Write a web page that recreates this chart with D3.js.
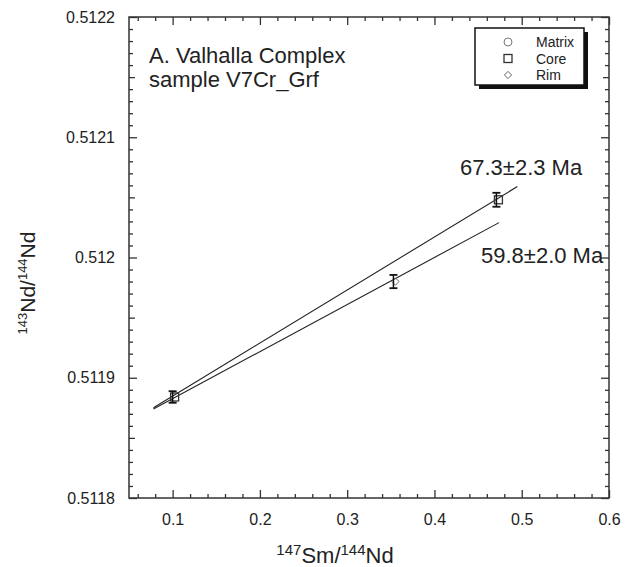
<!DOCTYPE html>
<html>
<head>
<meta charset="utf-8">
<script src="https://cdn.jsdelivr.net/npm/d3@7"></script>
<style>
  html, body { margin: 0; padding: 0; background: #fff; }
  svg { display: block; font-family: "Liberation Sans", Arial, Helvetica, sans-serif; }
</style>
</head>
<body>
<svg id="chart" width="634" height="567"></svg>
<script>
// ---- data ----
const sampleTitle = ["A. Valhalla Complex", "sample V7Cr_Grf"];
const pointType = ["Core", "Rim", "Core"];
const smNd = [0.1, 0.353, 0.471];
const ndNd = [0.511884, 0.511980, 0.512048];
const ndErr = [0.0000048, 0.0000055, 0.0000058];
const isoNames = ["67.3±2.3 Ma", "59.8±2.0 Ma"];
const isoX = [[0.078, 0.495], [0.078, 0.474]];
const isoY = [[0.511875, 0.512059], [0.511874, 0.512029]];
const xTickValues = [0.1, 0.2, 0.3, 0.4, 0.5, 0.6];
const xTickLabels = ["0.1", "0.2", "0.3", "0.4", "0.5", "0.6"];
const yTickValues = [0.5118, 0.5119, 0.512, 0.5121, 0.5122];
const yTickLabels = ["0.5118", "0.5119", "0.512", "0.5121", "0.5122"];
const legendNames = ["Matrix", "Core", "Rim"];

// ---- layout ----
const L = 129, R = 609, T = 17, B = 498;
const svg = d3.select("#chart");
const x = d3.scaleLinear().domain([0.05, 0.6]).range([L, R]);
const y = d3.scaleLinear().domain([0.5118, 0.5122]).range([B, T]);
const ink = "#333";

// minor tick sets
const xMinor = d3.range(0, 28).map(i => +(0.06 + i * 0.02).toFixed(3)).filter(v => v <= 0.6 && Math.abs(v * 10 - Math.round(v * 10)) > 1e-6);
const yAll = d3.range(0, 41).map(i => +(0.5118 + i * 0.00001).toFixed(6));
const yMinor = yAll.filter(v => Math.abs(v * 20000 - Math.round(v * 20000)) > 1e-4);
const yMid = yAll.filter(v => Math.abs(v * 20000 - Math.round(v * 20000)) <= 1e-4 && Math.abs(v * 10000 - Math.round(v * 10000)) > 1e-4);

function styleAxis(g) {
  g.select(".domain").remove();
  g.selectAll(".tick line").attr("stroke", ink).attr("stroke-width", 1.3);
}

// bottom
svg.append("g").attr("transform", `translate(0,${B})`)
  .call(d3.axisBottom(x).tickValues(xMinor).tickSize(-4).tickFormat(""))
  .call(styleAxis);
svg.append("g").attr("transform", `translate(0,${B})`)
  .call(d3.axisBottom(x).tickValues(xTickValues).tickSize(-8).tickPadding(16)
    .tickFormat((d, i) => xTickLabels[i]))
  .call(styleAxis)
  .call(g => g.selectAll("text").attr("font-size", 16).attr("fill", "#222")
    .attr("font-family", "Liberation Sans, Arial, sans-serif"));
// top
svg.append("g").attr("transform", `translate(0,${T})`)
  .call(d3.axisTop(x).tickValues(xMinor).tickSize(-4).tickFormat(""))
  .call(styleAxis);
svg.append("g").attr("transform", `translate(0,${T})`)
  .call(d3.axisTop(x).tickValues(xTickValues).tickSize(-8).tickFormat(""))
  .call(styleAxis);
// left
svg.append("g").attr("transform", `translate(${L},0)`)
  .call(d3.axisLeft(y).tickValues(yMinor).tickSize(-4).tickFormat(""))
  .call(styleAxis);
svg.append("g").attr("transform", `translate(${L},0)`)
  .call(d3.axisLeft(y).tickValues(yMid).tickSize(-6).tickFormat(""))
  .call(styleAxis);
svg.append("g").attr("transform", `translate(${L},0)`)
  .call(d3.axisLeft(y).tickValues(yTickValues).tickSize(-8).tickPadding(14)
    .tickFormat((d, i) => yTickLabels[i]))
  .call(styleAxis)
  .call(g => g.selectAll("text").attr("font-size", 16).attr("fill", "#222")
    .attr("font-family", "Liberation Sans, Arial, sans-serif"));
// right
svg.append("g").attr("transform", `translate(${R},0)`)
  .call(d3.axisRight(y).tickValues(yMinor).tickSize(-4).tickFormat(""))
  .call(styleAxis);
svg.append("g").attr("transform", `translate(${R},0)`)
  .call(d3.axisRight(y).tickValues(yMid).tickSize(-6).tickFormat(""))
  .call(styleAxis);
svg.append("g").attr("transform", `translate(${R},0)`)
  .call(d3.axisRight(y).tickValues(yTickValues).tickSize(-8).tickFormat(""))
  .call(styleAxis);

// frame
svg.append("rect").attr("x", L).attr("y", T).attr("width", R - L).attr("height", B - T)
  .attr("fill", "none").attr("stroke", ink).attr("stroke-width", 1.5);

// isochron lines
const line = d3.line().x(d => x(d[0])).y(d => y(d[1]));
isoX.forEach((xs, k) => {
  svg.append("path")
    .datum(xs.map((xv, j) => [xv, isoY[k][j]]))
    .attr("d", line).attr("fill", "none").attr("stroke", "#222").attr("stroke-width", 1.1);
});

// isochron labels
svg.append("text").attr("x", 460).attr("y", 175).attr("font-size", 22).attr("fill", "#222").text(isoNames[0]);
svg.append("text").attr("x", 481).attr("y", 263).attr("font-size", 22).attr("fill", "#222").text(isoNames[1]);

// symbols
function drawSymbol(g, type, cx, cy, s) {
  if (type === "Matrix") {
    g.append("circle").attr("cx", cx).attr("cy", cy).attr("r", s * 0.5)
      .attr("fill", "none").attr("stroke", "#777").attr("stroke-width", 1);
  } else if (type === "Core") {
    g.append("rect").attr("x", cx - s / 2).attr("y", cy - s / 2).attr("width", s).attr("height", s)
      .attr("fill", "none").attr("stroke", "#333").attr("stroke-width", 1.3);
  } else {
    const h = s * 0.45;
    g.append("path").attr("d", `M${cx},${cy - h}L${cx + h},${cy}L${cx},${cy + h}L${cx - h},${cy}Z`)
      .attr("fill", "none").attr("stroke", "#666").attr("stroke-width", 1);
  }
}

// data points with error bars
const pts = svg.append("g");
smNd.forEach((sv, i) => {
  const cx = x(sv), cy = y(ndNd[i]);
  drawSymbol(pts, pointType[i], cx + 2, cy, 8);
  const y0 = y(ndNd[i] - ndErr[i]), y1 = y(ndNd[i] + ndErr[i]);
  pts.append("line").attr("x1", cx).attr("x2", cx).attr("y1", y0).attr("y2", y1)
    .attr("stroke", "#111").attr("stroke-width", 1.5);
  [y0, y1].forEach(yy => pts.append("line").attr("x1", cx - 4).attr("x2", cx + 4)
    .attr("y1", yy).attr("y2", yy).attr("stroke", "#111").attr("stroke-width", 1.8));
});

// title
sampleTitle.forEach((t, i) => {
  svg.append("text").attr("x", 149).attr("y", 63 + i * 24).attr("font-size", 22)
    .attr("fill", "#222").text(t);
});

// legend
const lg = svg.append("g");
lg.append("rect").attr("x", 479).attr("y", 32).attr("width", 109).attr("height", 57).attr("fill", "#111");
lg.append("rect").attr("x", 475).attr("y", 28).attr("width", 109).attr("height", 57)
  .attr("fill", "#fff").attr("stroke", "#111").attr("stroke-width", 1.5);
legendNames.forEach((n, i) => {
  const cy = 42 + i * 16.5;
  drawSymbol(lg, n, 508, cy, 8);
  lg.append("text").attr("x", 536).attr("y", cy + 5).attr("font-size", 14).attr("fill", "#222").text(n);
});

// axis titles
const xt = svg.append("text").attr("x", 335).attr("y", 563).attr("text-anchor", "middle")
  .attr("font-size", 22).attr("fill", "#222");
xt.append("tspan").attr("font-size", 15).attr("dy", -8).text("147");
xt.append("tspan").attr("dy", 8).text("Sm/");
xt.append("tspan").attr("font-size", 15).attr("dy", -8).text("144");
xt.append("tspan").attr("dy", 8).text("Nd");

const yt = svg.append("text").attr("transform", "translate(35,283) rotate(-90)").attr("text-anchor", "middle")
  .attr("font-size", 21).attr("fill", "#222");
yt.append("tspan").attr("font-size", 13).attr("dy", -8).text("143");
yt.append("tspan").attr("dy", 8).text("Nd/");
yt.append("tspan").attr("font-size", 13).attr("dy", -8).text("144");
yt.append("tspan").attr("dy", 8).text("Nd");
</script>
</body>
</html>
